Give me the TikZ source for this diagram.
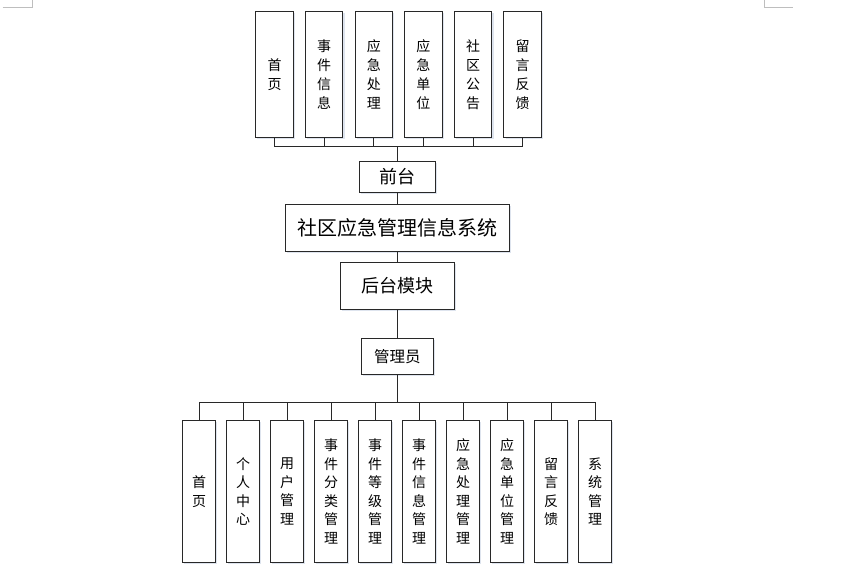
\documentclass[tikz,border=0pt]{standalone}
\usepackage{fontspec}
\setmainfont{Noto Sans CJK SC}
\usetikzlibrary{shadows}
\definecolor{lineC}{RGB}{40,40,40}
\definecolor{shadC}{RGB}{222,228,238}
\definecolor{markC}{RGB}{190,190,190}
\tikzset{
  box/.style={draw=lineC, fill=white, line width=0.9pt, inner sep=0pt,
    drop shadow={shadow xshift=1.6pt, shadow yshift=-1.6pt, fill=shadC, opacity=1}},
  topbox/.style={box, minimum width=37.6pt, minimum height=126.7pt, align=center,
    font=\fontsize{14}{19}\selectfont},
  botbox/.style={box, minimum width=33.7pt, minimum height=141.6pt, align=center,
    font=\fontsize{14}{18.5}\selectfont},
  conn/.style={draw=lineC, line width=0.8pt},
  cornermark/.style={draw=markC, line width=0.8pt}
}
\begin{document}
\begin{tikzpicture}[x=1pt,y=-1pt]
\useasboundingbox (0,0) rectangle (853,570);
% corner marks
\draw[cornermark] (2.7,7.3) -- (32.3,7.3) -- (32.3,0);
\draw[cornermark] (764,0) -- (764,7.3) -- (793.3,7.3);

% top boxes
\node[topbox] (t1) at (274.5,74.3) {首\\页};
\node[topbox] (t2) at (324.1,74.3) {事\\件\\信\\息};
\node[topbox] (t3) at (373.8,74.3) {应\\急\\处\\理};
\node[topbox] (t4) at (423.4,74.3) {应\\急\\单\\位};
\node[topbox] (t5) at (473.1,74.3) {社\\区\\公\\告};
\node[topbox] (t6) at (522.7,74.3) {留\\言\\反\\馈};

% centre column
\node[box, minimum width=76pt, minimum height=30.7pt, font=\fontsize{18}{20}\selectfont] (qt) at (397.3,176.7) {前台};
\node[box, minimum width=224pt, minimum height=47.4pt, font=\fontsize{20}{22}\selectfont] (sys) at (397.3,228) {社区应急管理信息系统};
\node[box, minimum width=114pt, minimum height=46.6pt, font=\fontsize{18}{20}\selectfont] (ht) at (397.3,286) {后台模块};
\node[box, minimum width=71.3pt, minimum height=36pt, font=\fontsize{15.5}{18}\selectfont] (gly) at (397.3,356.3) {管理员};

% bottom boxes
\node[botbox] (b1) at (199,491.5) {首\\页};
\node[botbox] (b2) at (243,491.5) {个\\人\\中\\心};
\node[botbox] (b3) at (287,491.5) {用\\户\\管\\理};
\node[botbox] (b4) at (331,491.5) {事\\件\\分\\类\\管\\理};
\node[botbox] (b5) at (375,491.5) {事\\件\\等\\级\\管\\理};
\node[botbox] (b6) at (419,491.5) {事\\件\\信\\息\\管\\理};
\node[botbox] (b7) at (463,491.5) {应\\急\\处\\理\\管\\理};
\node[botbox] (b8) at (507,491.5) {应\\急\\单\\位\\管\\理};
\node[botbox] (b9) at (551,491.5) {留\\言\\反\\馈};
\node[botbox] (b10) at (595,491.5) {系\\统\\管\\理};

% bus coordinates
\coordinate (busT) at (397.3,146.7);
\coordinate (busB) at (397.3,402.7);

% connectors
\foreach \i in {1,...,6} { \draw[conn] (t\i.south) |- (busT); }
\draw[conn] (busT) -- (qt.north);
\draw[conn] (qt.south) -- (sys.north);
\draw[conn] (sys.south) -- (ht.north);
\draw[conn] (ht.south) -- (gly.north);
\draw[conn] (gly.south) -- (busB);
\foreach \i in {1,...,10} { \draw[conn] (b\i.north) |- (busB); }
\end{tikzpicture}
\end{document}
